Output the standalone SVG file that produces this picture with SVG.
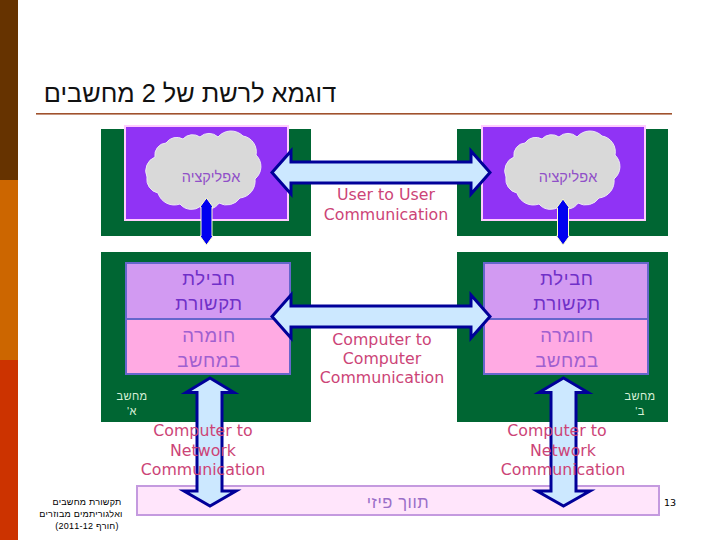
<svg xmlns="http://www.w3.org/2000/svg" width="720" height="540" viewBox="0 0 720 540">
<style>
text{font-family:"Liberation Sans",Arial,sans-serif;text-anchor:middle}
.he{direction:rtl}
.green{fill:#006633}
.app{fill:#9033F5;stroke:#FFCCFF;stroke-width:2}
.comm{fill:#D29AF2;stroke:#6666CC;stroke-width:2}
.hw{fill:#FFAAE3;stroke:#6666CC;stroke-width:2}
.cloud{fill:#D9D9D9;stroke:#EDE8F5;stroke-width:1}
.arrow{fill:#CCE8FF;stroke:#000099;stroke-width:3;stroke-linejoin:miter}
.small{fill:#0000F0;stroke:#FFFFCC;stroke-width:1}
.en{font-family:"DejaVu Sans",Verdana,sans-serif;font-size:15.8px;fill:#CC4477}
.t1{font-size:14.500px;fill:#9050C8}
.t2{font-size:18.500px;fill:#7030C8;letter-spacing:.6px}
.t3{font-size:18.500px;fill:#A060D0;letter-spacing:.6px}
.pc{font-size:11px;fill:#D8F0D8;letter-spacing:.4px}
.foot{font-size:9px;fill:#000;letter-spacing:.25px}
</style>
<defs>
<path id="cl" d="M155 157A12 12 0 0 1 166 143A13 13 0 0 1 183 139A13 13 0 0 1 200 137A13 13 0 0 1 218 137A17 17 0 0 1 243 136A16 16 0 0 1 256 155A16 16 0 0 1 255 179A17 17 0 0 1 240 198A16 16 0 0 1 219 203A12 12 0 0 1 201 206A15 15 0 0 1 180 204A17 17 0 0 1 158 193A14 14 0 0 1 147 177A15 15 0 0 1 155 157Z"/>
</defs>
<g id="sidebar">
<rect width="18" height="180" fill="#663300"/>
<rect y="180" width="18" height="180" fill="#CC6600"/>
<rect y="360" width="18" height="180" fill="#CC3300"/>
</g>
<g id="title">
<text class="he" x="190" y="102" font-size="25.300" fill="#111">דוגמא לרשת של 2 מחשבים</text>
<rect x="36" y="113" width="636" height="1.6" fill="#A0522D"/>
</g>
<g id="computer-a">
<rect class="green" x="101" y="129" width="210" height="107"/>
<rect class="green" x="101" y="252" width="210" height="170"/>
<rect class="app" x="125" y="126" width="163" height="94"/>
<use href="#cl" class="cloud"/>
<text class="he t1" x="211" y="182">אפליקציה</text>
<rect class="comm" x="126" y="263" width="164" height="56"/>
<text class="he t2" x="209" y="285">חבילת</text>
<text class="he t2" x="209" y="310">תקשורת</text>
<rect class="hw" x="126" y="319" width="164" height="55"/>
<text class="he t3" x="209" y="342">חומרה</text>
<text class="he t3" x="209" y="367">במחשב</text>
<text class="he pc" x="132" y="400">מחשב</text>
<text class="he pc" x="132" y="415">א'</text>
</g>
<g id="computer-b">
<rect class="green" x="457" y="129" width="211" height="107"/>
<rect class="green" x="457" y="252" width="211" height="170"/>
<rect class="app" x="482" y="126" width="163" height="94"/>
<use href="#cl" class="cloud" transform="translate(359 0)"/>
<text class="he t1" x="568" y="182">אפליקציה</text>
<rect class="comm" x="484" y="263" width="164" height="56"/>
<text class="he t2" x="567" y="285">חבילת</text>
<text class="he t2" x="567" y="310">תקשורת</text>
<rect class="hw" x="484" y="319" width="164" height="55"/>
<text class="he t3" x="567" y="342">חומרה</text>
<text class="he t3" x="567" y="367">במחשב</text>
<text class="he pc" x="640" y="400">מחשב</text>
<text class="he pc" x="640" y="415">ב'</text>
</g>
<g id="network">
<rect x="137" y="486" width="522" height="29" fill="#FFE5FB" stroke="#C49ADF" stroke-width="2"/>
<text class="he" x="398" y="508" font-size="16.500" fill="#9A6FC8" letter-spacing=".6">תווך פיזי</text>
</g>
<g id="connectors">
<path class="arrow" d="M272 172.500L291 151V162H471V151L490 172.500L471 194V183H291V194Z"/>
<path class="arrow" d="M272 316.500L291 295V306H471V295L490 316.500L471 338V327H291V338Z"/>
<path class="arrow" d="M210 378L234 392.500H222V491H236L210 506L184 491H197V392.500H186Z"/>
<path class="arrow" d="M563.500 378L588 392.500H576V491H590L563.500 506L537 491H551V392.500H539Z"/>
<path class="small" d="M206.500 198L213 207H212V236H213L206.500 245L200 236H201V207H200Z"/>
<path class="small" d="M563 199L569.500 208H568.500V236H569.500L563 245L556.500 236H557.500V208H556.500Z"/>
</g>
<g id="labels">
<text class="en" x="386" y="200">User to User</text>
<text class="en" x="386" y="220">Communication</text>
<text class="en" x="382" y="345">Computer to</text>
<text class="en" x="382" y="364">Computer</text>
<text class="en" x="382" y="383">Communication</text>
<text class="en" x="203" y="436">Computer to</text>
<text class="en" x="203" y="456">Network</text>
<text class="en" x="203" y="475">Communication</text>
<text class="en" x="557" y="436">Computer to</text>
<text class="en" x="563" y="456">Network</text>
<text class="en" x="563" y="475">Communication</text>
</g>
<g id="footer">
<text class="he foot" x="87" y="505">תקשורת מחשבים</text>
<text class="he foot" x="81" y="517">ואלגוריתמים מבוזרים</text>
<text class="he foot" x="87" y="529">(חורף 2011-12)</text>
<text x="670" y="506" font-size="9.500" fill="#000" style="font-family:'DejaVu Sans',sans-serif">13</text>
</g>
</svg>
